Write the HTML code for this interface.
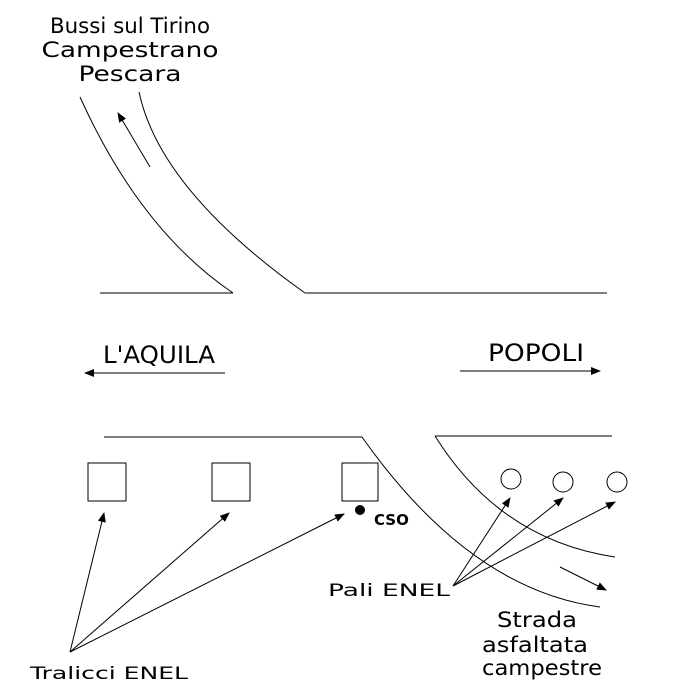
<!DOCTYPE html>
<html><head><style>
body{margin:0;background:#fff;width:700px;height:700px;overflow:hidden}
svg{display:block}
text{font-family:"DejaVu Sans","Liberation Sans",sans-serif;fill:#000}
</style></head><body>
<svg width="700" height="700" viewBox="0 0 700 700">
<defs><marker id="a" markerWidth="10" markerHeight="8" refX="9" refY="4" orient="auto" markerUnits="userSpaceOnUse"><path d="M0,0 L10,4 L0,8 Z" fill="#000"/></marker></defs>
<g fill="none" stroke="#000" stroke-width="1">
<path d="M80,97 Q140,230 233,293"/>
<path d="M139,92 Q160,190 305,293"/>
<line x1="100" y1="293" x2="233" y2="293"/>
<line x1="305" y1="293" x2="607" y2="293"/>
<line x1="150" y1="167" x2="118" y2="113" marker-end="url(#a)"/>
<line x1="225" y1="373" x2="85" y2="373" marker-end="url(#a)"/>
<line x1="460" y1="371" x2="600" y2="371" marker-end="url(#a)"/>
<line x1="104" y1="437" x2="362" y2="437"/>
<path d="M362,437 Q470,590 600,607"/>
<line x1="435" y1="436" x2="612" y2="436"/>
<path d="M435,436 Q500,540 615,557"/>
<line x1="560" y1="567" x2="606" y2="590" marker-end="url(#a)"/>
<rect x="88" y="463" width="38" height="38"/>
<rect x="212" y="463" width="38" height="38"/>
<rect x="342" y="463" width="36" height="38"/>
<circle cx="511" cy="479" r="10"/>
<circle cx="563" cy="482" r="10"/>
<circle cx="617" cy="482" r="10"/>
<line x1="453" y1="586" x2="510" y2="498" marker-end="url(#a)"/>
<line x1="453" y1="586" x2="563" y2="498" marker-end="url(#a)"/>
<line x1="453" y1="586" x2="615" y2="502" marker-end="url(#a)"/>
<line x1="70" y1="652" x2="104" y2="513" marker-end="url(#a)"/>
<line x1="70" y1="652" x2="229" y2="513" marker-end="url(#a)"/>
<line x1="70" y1="652" x2="344" y2="514" marker-end="url(#a)"/>
</g>
<circle cx="360" cy="510" r="5" fill="#000"/>
<g text-anchor="middle" font-size="21">
<text x="130" y="33" textLength="160" lengthAdjust="spacingAndGlyphs">Bussi sul Tirino</text>
<text x="130" y="57" textLength="177" lengthAdjust="spacingAndGlyphs">Campestrano</text>
<text x="130" y="81" textLength="103" lengthAdjust="spacingAndGlyphs">Pescara</text>
<text x="159" y="363" font-size="24" textLength="112" lengthAdjust="spacingAndGlyphs">L'AQUILA</text>
<text x="536" y="361" font-size="24" textLength="96" lengthAdjust="spacingAndGlyphs">POPOLI</text>
<text x="537" y="627" textLength="80" lengthAdjust="spacingAndGlyphs">Strada</text>
<text x="535" y="652" textLength="106" lengthAdjust="spacingAndGlyphs">asfaltata</text>
<text x="542" y="675" textLength="120" lengthAdjust="spacingAndGlyphs">campestre</text>
</g>
<text x="374" y="525" font-size="15" font-weight="bold" font-family="Liberation Sans">CSO</text>
<text x="328" y="596" font-size="17" textLength="122" lengthAdjust="spacingAndGlyphs">Pali ENEL</text>
<text x="30" y="679" font-size="17" textLength="158" lengthAdjust="spacingAndGlyphs">Tralicci ENEL</text>
</svg>
</body></html>
